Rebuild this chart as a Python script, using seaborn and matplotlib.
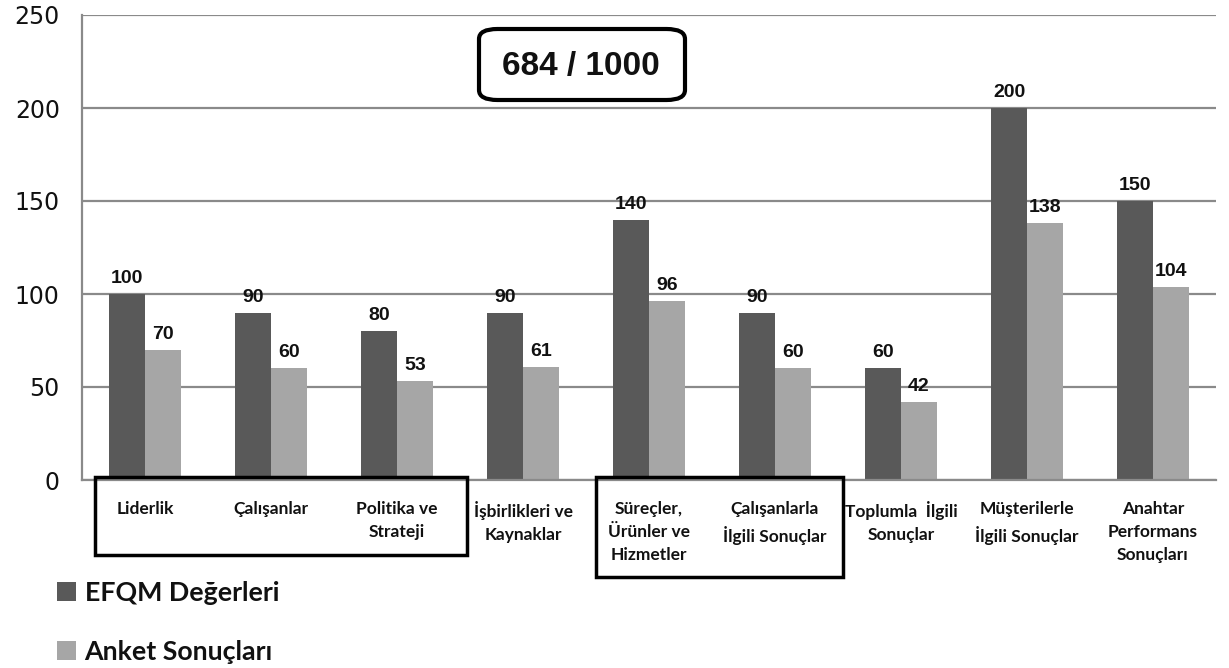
import pandas as pd
import matplotlib.pyplot as plt
import seaborn as sns
from matplotlib.patches import Rectangle, FancyBboxPatch

# Data
categories = [
    "Liderlik", "Çalışanlar", "Politika ve\nStrateji", "İşbirlikleri ve\nKaynaklar",
    "Süreçler,\nÜrünler ve\nHizmetler", "Çalışanlarla\nİlgili Sonuçlar",
    "Toplumla  İlgili\nSonuçlar", "Müşterilerle\nİlgili Sonuçlar",
    "Anahtar\nPerformans\nSonuçları",
]
efqm = [100, 90, 80, 90, 140, 90, 60, 200, 150]
anket = [70, 60, 53, 61, 96, 60, 42, 138, 104]
series = ["EFQM Değerleri", "Anket Sonuçları"]
colors = ["#595959", "#a6a6a6"]
total_label = "684 / 1000"

df = pd.DataFrame({"Kategori": categories, series[0]: efqm, series[1]: anket})
df_long = df.melt(id_vars="Kategori", var_name="Seri", value_name="Puan")

sns.set_style("white")
fig = plt.figure(figsize=(12.29, 6.68), dpi=100)
ax = fig.add_axes([82 / 1229, 1 - 480 / 668, (1216 - 82) / 1229, 465 / 668])

sns.barplot(data=df_long, x="Kategori", y="Puan", hue="Seri", palette=colors,
            width=0.57, gap=0, saturation=1, ax=ax, edgecolor="none")

# value labels
for cont in ax.containers:
    ax.bar_label(cont, fmt="%d", padding=5, fontsize=14, fontweight="bold",
                 family="Liberation Sans", color="#111111")

ax.set_ylim(0, 250)
ax.set_xlim(-0.5, len(categories) - 0.5)
ax.set_yticks(range(0, 251, 50))
ax.yaxis.grid(True, color="#8a8a8a", lw=1.6)
ax.set_axisbelow(True)
ax.set_xlabel("")
ax.set_ylabel("")
for s in ["top", "right"]:
    ax.spines[s].set_visible(False)
for s in ["left", "bottom"]:
    ax.spines[s].set_color("#8a8a8a")
    ax.spines[s].set_linewidth(1.6)

ax.tick_params(axis="y", length=9, width=1.6, color="#8a8a8a", labelsize=17,
               labelcolor="#111111", pad=7)
for t in ax.get_yticklabels():
    t.set_family("DejaVu Sans")

# category labels, tick marks at boundaries
ax.set_xticks(range(len(categories)))
ax.set_xticklabels(categories, fontsize=12.5, fontweight="bold", family="Lato",
                   linespacing=1.55, va="top", color="#111111")
ax.tick_params(axis="x", length=0, pad=15)
ax.set_xticks([k + 0.5 for k in range(len(categories))], minor=True)
ax.tick_params(axis="x", which="minor", length=8, width=1.6, color="#8a8a8a")

ax.get_legend().remove()
handles, labels = ax.get_legend_handles_labels()
fig.legend(handles, labels, loc="upper left", bbox_to_anchor=(57 / 1229, 1 - 581 / 668),
           frameon=False, prop={"family": "Lato", "weight": "bold", "size": 19.3},
           handlelength=0.7, handleheight=0.7, handletextpad=0.33, labelspacing=1.3,
           borderpad=0, borderaxespad=0, labelcolor="#111111")

# total score box
fig.patches.append(FancyBboxPatch((479 / 1229, 1 - 100 / 668), 206 / 1229, 71 / 668,
                                  boxstyle="round,pad=0,rounding_size=0.015",
                                  transform=fig.transFigure, fill=False,
                                  edgecolor="black", lw=3))
fig.text(581 / 1229, 1 - 66 / 668, total_label, ha="center", va="center",
         fontsize=24, fontweight="bold", family="Liberation Sans", color="#111111")

# group frames around labels
fig.patches.append(Rectangle((95 / 1229, 1 - 555 / 668), 372 / 1229, 78 / 668,
                             transform=fig.transFigure, fill=False, edgecolor="black", lw=2.5))
fig.patches.append(Rectangle((596 / 1229, 1 - 577 / 668), 247 / 1229, 100 / 668,
                             transform=fig.transFigure, fill=False, edgecolor="black", lw=2.5))

fig.savefig("out.png", dpi=100)
